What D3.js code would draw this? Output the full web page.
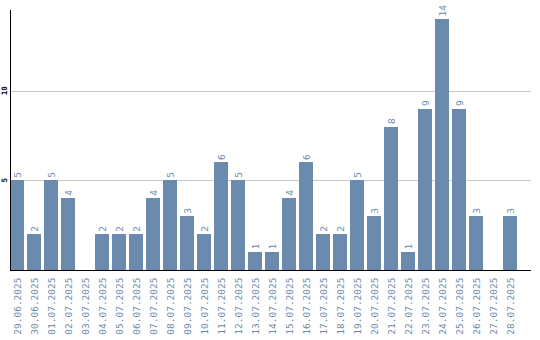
<!DOCTYPE html>
<html>
<head>
<meta charset="utf-8">
<script src="https://cdn.jsdelivr.net/npm/d3@7"></script>
<style>
  body { margin: 0; background: #fff; }
  svg text { font-family: "DejaVu Sans Mono", "Liberation Mono", monospace; }
</style>
</head>
<body>
<script>
// data
const dates = ["29.06.2025", "30.06.2025", "01.07.2025", "02.07.2025", "03.07.2025",
  "04.07.2025", "05.07.2025", "06.07.2025", "07.07.2025", "08.07.2025",
  "09.07.2025", "10.07.2025", "11.07.2025", "12.07.2025", "13.07.2025",
  "14.07.2025", "15.07.2025", "16.07.2025", "17.07.2025", "18.07.2025",
  "19.07.2025", "20.07.2025", "21.07.2025", "22.07.2025", "23.07.2025",
  "24.07.2025", "25.07.2025", "26.07.2025", "27.07.2025", "28.07.2025"];
const counts = [5, 2, 5, 4, 0, 2, 2, 2, 4, 5, 3, 2, 6, 5, 1, 1, 4, 6, 2, 2, 5, 3, 8, 1, 9, 14, 9, 3, 0, 3];
const yTicks = [5, 10];

const width = 540, height = 340;
const plot = { left: 10, right: 531, top: 10, bottom: 270 };
const barColor = "#6a8bad";

const svg = d3.select("body").append("svg")
  .attr("width", width).attr("height", height);

const x = d3.scaleBand().domain(dates).range([plot.left, 517])
  .paddingInner(3 / 17).paddingOuter(0);
const y = d3.scaleLinear().domain([0, 14.5]).range([plot.bottom, plot.top]);

// gridlines
svg.append("g").selectAll("line").data(yTicks).enter().append("line")
  .attr("x1", plot.left).attr("x2", plot.right)
  .attr("y1", d => Math.round(y(d)) + 0.5).attr("y2", d => Math.round(y(d)) + 0.5)
  .attr("stroke", "#c8c8c8").attr("stroke-width", 1);

// y tick labels
svg.append("g").selectAll("text").data(yTicks).enter().append("text")
  .attr("transform", d => `translate(7, ${y(d)}) rotate(-90)`)
  .attr("text-anchor", "middle")
  .attr("font-size", 7.5).attr("font-weight", "bold").attr("fill", "#000")
  .text(d => d);

// bars
const data = dates.map((d, i) => ({ date: d, value: counts[i] }));
svg.append("g").selectAll("rect").data(data.filter(d => d.value > 0)).enter().append("rect")
  .attr("x", d => x(d.date)).attr("width", x.bandwidth())
  .attr("y", d => y(d.value)).attr("height", d => y(0) - y(d.value))
  .attr("fill", barColor).attr("shape-rendering", "crispEdges");

// value labels
svg.append("g").selectAll("text").data(data.filter(d => d.value > 0)).enter().append("text")
  .attr("transform", d => `translate(${x(d.date) + x.bandwidth() / 2 + 3.5}, ${y(d.value) - 2.5}) rotate(-90)`)
  .attr("font-size", 9.5).attr("fill", barColor)
  .text(d => d.value);

// axis lines
svg.append("line").attr("x1", plot.left + 0.5).attr("x2", plot.left + 0.5)
  .attr("y1", plot.top).attr("y2", plot.bottom + 1)
  .attr("stroke", "#000").attr("stroke-width", 1);
svg.append("line").attr("x1", plot.left).attr("x2", plot.right)
  .attr("y1", plot.bottom + 0.5).attr("y2", plot.bottom + 0.5)
  .attr("stroke", "#000").attr("stroke-width", 1);

// x labels
svg.append("g").selectAll("text").data(dates).enter().append("text")
  .attr("transform", d => `translate(${x(d) + x.bandwidth() / 2 + 3.5}, 277.5) rotate(-90)`)
  .attr("text-anchor", "end")
  .attr("font-size", 9.5).attr("fill", barColor)
  .text(d => d);
</script>
</body>
</html>
